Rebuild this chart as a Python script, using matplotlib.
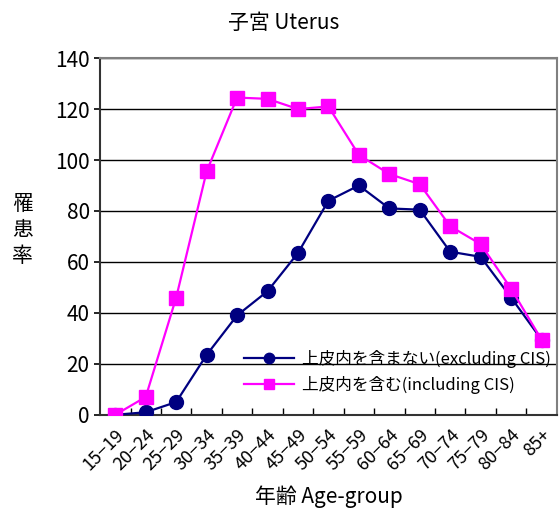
import matplotlib
matplotlib.use('Agg')
import matplotlib.pyplot as plt
from matplotlib.ticker import FixedLocator

plt.rcParams['font.family'] = ['Noto Sans CJK JP', 'DejaVu Sans']

# age groups and incidence rates
ages = ['15-19', '20-24', '25-29', '30-34', '35-39', '40-44', '45-49', '50-54',
        '55-59', '60-64', '65-69', '70-74', '75-79', '80-84', '85+']
excl_cis = [0, 1, 5, 23.5, 39, 48.5, 63.5, 84, 90, 81, 80.5, 64, 62, 46, 29.5]
incl_cis = [0, 7, 46, 95.5, 124.5, 124, 120, 121, 102, 94.5, 90.5, 74, 67, 49.5, 29.5]

fig = plt.figure(figsize=(5.59, 5.14), dpi=100)
ax = fig.add_axes([0.179, 0.193, 0.817, 0.694])

x = list(range(len(ages)))
ax.plot(x, excl_cis, color='#000080', lw=1.6, marker='o', ms=10,
        label='上皮内を含まない(excluding CIS)', zorder=3)
ax.plot(x, incl_cis, color='#FF00FF', lw=1.6, marker='s', ms=10,
        label='上皮内を含む(including CIS)', zorder=3)

ax.set_xlim(-0.5, len(ages) - 0.5)
ax.set_ylim(0, 140)
ax.set_yticks(range(0, 141, 20))
ax.yaxis.grid(True, color='black', lw=1)
ax.set_axisbelow(True)
ax.tick_params(axis='y', labelsize=15, length=4, width=1.2, direction='out')

ax.set_xticks(x)
ax.set_xticklabels([a.replace('-', '\u2212') for a in ages], rotation=45,
                   ha='right', va='top', rotation_mode='anchor', fontsize=13)
ax.xaxis.set_minor_locator(FixedLocator([i + 0.5 for i in range(len(ages) - 1)]))
ax.tick_params(axis='x', which='major', length=0, pad=8)
ax.tick_params(axis='x', which='minor', length=5, direction='in', width=1)

for s in ['left', 'bottom']:
    ax.spines[s].set_color('#333333')
    ax.spines[s].set_linewidth(1.5)
for s in ['top', 'right']:
    ax.spines[s].set_color('#808080')
    ax.spines[s].set_linewidth(1.5)

ax.legend(loc='upper left', bbox_to_anchor=(0.3, 0.2), frameon=False,
          fontsize=12, handlelength=3, borderaxespad=0, labelspacing=0.45,
          markerscale=0.75, handletextpad=0.5)

fig.text(0.507, 0.955, '子宮 Uterus', ha='center', va='center', fontsize=15)
fig.text(0.04, 0.553, '罹\n患\n率', ha='center', va='center', fontsize=15,
         linespacing=1.25)
ax.set_xlabel('年齢 Age-group', fontsize=15, labelpad=8)

fig.savefig('out.png', dpi=100)
